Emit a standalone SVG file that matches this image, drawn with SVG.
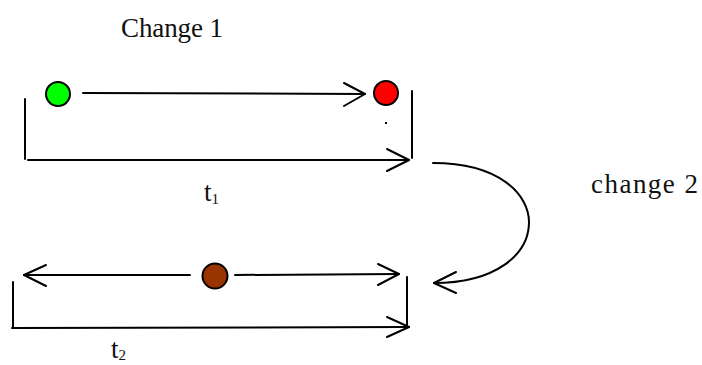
<svg xmlns="http://www.w3.org/2000/svg" width="702" height="365" viewBox="0 0 702 365">
<style>
.ln{fill:none;stroke:#000;stroke-width:2;stroke-linecap:round;stroke-linejoin:round}
.lbl{font-family:"Liberation Serif",serif;font-size:27px;fill:#111}
.sub{font-family:"Liberation Serif",serif;font-size:15px;fill:#111}
.dot{stroke:#000;stroke-width:2}
</style>
<rect width="702" height="365" fill="#fff"/>
<g id="label-change1"><text class="lbl" x="121" y="37" textLength="102" lengthAdjust="spacing">Change 1</text></g>
<g id="label-change2"><text class="lbl" x="591" y="193" textLength="107" lengthAdjust="spacing">change 2</text></g>
<g id="label-t1"><text class="lbl" x="204" y="201">t<tspan class="sub" dy="3">1</tspan></text></g>
<g id="label-t2"><text class="lbl" x="111" y="358">t<tspan class="sub" dy="2">2</tspan></text></g>
<g id="green-node"><circle class="dot" cx="58" cy="94" r="12" fill="#00ff00"/></g>
<g id="red-node"><circle class="dot" cx="386" cy="93" r="12" fill="#ff0000"/></g>
<g id="brown-node"><circle class="dot" cx="215" cy="276" r="12.5" fill="#993300"/></g>
<g id="connectors">
<path class="ln" d="M83 93 L365 94"/>
<path class="ln" d="M344 83 L365 94 L344 106"/>
<rect x="385" y="122" width="2" height="2" fill="#000"/>
<path class="ln" d="M25 99 L25 159"/>
<path class="ln" d="M412 91 L412 158"/>
<path class="ln" d="M28 160 L409 160"/>
<path class="ln" d="M387 149 L409 160 L387 171"/>
<path class="ln" d="M433 163 C500 163 529 195 529 222 C529 255 495 283 434 283"/>
<path class="ln" d="M456 272 L434 283 L456 293"/>
<path class="ln" d="M24 275 L190 275"/>
<path class="ln" d="M46 265 L24 275 L46 286"/>
<path class="ln" d="M235 275 L399 274"/>
<path class="ln" d="M378 264 L399 274 L378 285"/>
<path class="ln" d="M13 282 L13 328"/>
<path class="ln" d="M407 277 L407 327"/>
<path class="ln" d="M12 328 L409 327"/>
<path class="ln" d="M387 317 L409 327 L387 337"/>
</g>
</svg>
